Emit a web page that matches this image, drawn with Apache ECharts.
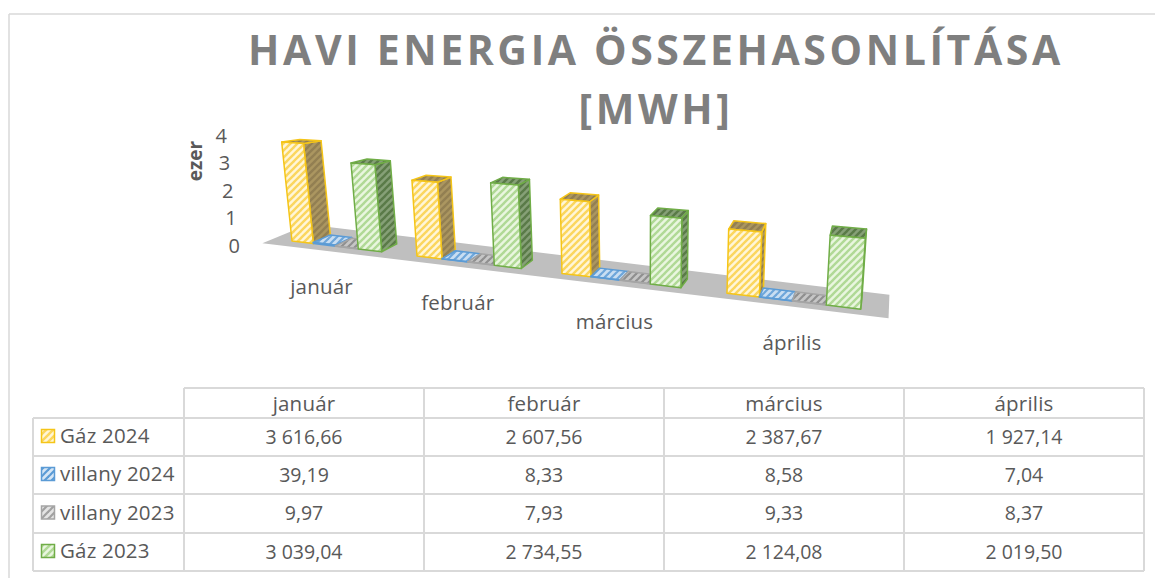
<!DOCTYPE html>
<html><head><meta charset="utf-8">
<style>
html,body{margin:0;padding:0;background:#fff}
#c{width:1155px;height:578px}
#c text[style*="41px"]{letter-spacing:3.6px}
#c text[style*="20.5px"]{letter-spacing:.2px}
</style>
<script src="https://cdn.jsdelivr.net/npm/echarts@6/dist/echarts.min.js"></script>
</head><body><div id="c"></div>
<script>
const titleText = 'HAVI ENERGIA ÖSSZEHASONLÍTÁSA\n[MWH]';
const axisName = 'ezer';
const categories = ['január','február','március','április'];
const tickLabels = ['0','1','2','3','4'];
const gaz2024 = [3616.66,2607.56,2387.67,1927.14];
const villany2024 = [39.19,8.33,8.58,7.04];
const villany2023 = [9.97,7.93,9.33,8.37];
const gaz2023 = [3039.04,2734.55,2124.08,2019.50];

const FONT='"Open Sans"', TXT='#595959', LINE='#d9d9d9', SIZE='19.5px ', WORD='20.5px ';
function tile(bg,fg,lw){
  const n=7,cv=document.createElement('canvas');cv.width=n;cv.height=n;
  const x=cv.getContext('2d');x.fillStyle=bg;x.fillRect(0,0,n,n);
  x.strokeStyle=fg;x.lineWidth=lw;
  for(let k=-n;k<=2*n;k+=n){x.beginPath();x.moveTo(k-1,n+1);x.lineTo(k+n+1,-1);x.stroke();}
  return {image:cv,repeat:'repeat',imageWidth:n,imageHeight:n};
}
const defs=[
 {name:'Gáz 2024',values:gaz2024,a:0,color:'#f5c518',front:tile('#fff6d8','#fbd65e',2.4),side:tile('#ab9660','#927f52',2.4),top:tile('#ab9660','#927f52',2.4)},
 {name:'villany 2024',values:villany2024,a:.183,color:'#5b9bd5',front:tile('#d6e6f5','#5b9bd5',2.2),side:tile('#7fa6cc','#5b84ad',2),top:tile('#c9def2','#6ea6da',2.2)},
 {name:'villany 2023',values:villany2023,a:.366,color:'#a5a5a5',front:tile('#e4e4e4','#a0a0a0',2.2),side:tile('#9a9a9a','#808080',2),top:tile('#c6c6c6','#8f8f8f',2.2)},
 {name:'Gáz 2023',values:gaz2023,a:.55,color:'#70ad47',front:tile('#e9f6df','#b0d996',2.4),side:tile('#86a077','#5a7a48',2.4),top:tile('#86a077','#5a7a48',2.4)}
];
const W=.183;
function P(api,u,d,v){
  const o=api.coord([0,0]),step=api.coord([1,0])[0]-o[0];
  const X0=o[0]+u*step+10*u*u;
  const Y0=o[1]-4+.12*(X0-o[0]);
  const dx=17-(X0-315)*.029, dy=-7.5-.003*(X0-273);
  const nominal=o[1]-api.coord([0,v])[1];
  const h=nominal*(1+(X0-300)*.000494)*(1-d*.05*(1-(X0-300)/540));
  const lean=.0003*(X0-640);
  return [X0+d*dx+lean*h, Y0+d*dy-h];
}
function barItem(def){
  return function(params,api){
    const i=api.value(0),v=api.value(1),u0=i+def.a,u1=u0+W;
    const poly=(pts,fill)=>({type:'polygon',shape:{points:pts},style:{fill:fill,stroke:def.color,lineWidth:1.5,lineJoin:'round'}});
    return {type:'group',children:[
      poly([P(api,u1,0,0),P(api,u1,1,0),P(api,u1,1,v),P(api,u1,0,v)],def.side),
      poly([P(api,u0,0,v),P(api,u1,0,v),P(api,u1,1,v),P(api,u0,1,v)],def.top),
      poly([P(api,u0,0,0),P(api,u1,0,0),P(api,u1,0,v),P(api,u0,0,v)],def.front)
    ]};
  };
}
function floorItem(params,api){
  const a=-.165,b=3.88;
  return {type:'polygon',shape:{points:[P(api,a,-.6,0),P(api,b,-.6,0),P(api,b,1.9,0),P(api,a,1.9,0)]},style:{fill:'#bfbfbf'}};
}
function labelItem(params,api){
  const i=api.value(0),p=P(api,i+.37,-1,0);
  return {type:'text',x:p[0]+2,y:p[1]+32,style:{text:categories[i],fill:TXT,font:WORD+FONT,align:'center',verticalAlign:'middle'}};
}
// table
const colX=[184,424,664,904,1144], rowY=[388,418,456,494,533,571], tableLeft=33;
const fmt=v=>{const s=v.toFixed(2).split('.');return s[0].replace(/\B(?=(\d{3})+$)/g,' ')+','+s[1];};
const g=[];
const line=(x1,y1,x2,y2)=>g.push({type:'line',silent:true,shape:{x1,y1,x2,y2},style:{stroke:LINE,lineWidth:2}});
const text=(t,x,y,align,size)=>g.push({type:'text',silent:true,x,y,style:{text:t,fill:TXT,font:size+FONT,align:align,verticalAlign:'middle'}});
// outer frame
g.push({type:'line',silent:true,shape:{x1:9,y1:14,x2:1155,y2:14},style:{stroke:LINE,lineWidth:1.5}});
g.push({type:'line',silent:true,shape:{x1:9,y1:14,x2:9,y2:578},style:{stroke:LINE,lineWidth:1.5}});
rowY.forEach((y,r)=>line(r===0?colX[0]:tableLeft,y,colX[4],y));
colX.forEach(x=>line(x,rowY[0],x,rowY[5]));
line(tableLeft,rowY[1],tableLeft,rowY[5]);
categories.forEach((c,i)=>text(c,(colX[i]+colX[i+1])/2,(rowY[0]+rowY[1])/2,'center',WORD));
defs.forEach((d,r)=>{
  const cy=(rowY[r+1]+rowY[r+2])/2-1;
  g.push({type:'rect',silent:true,shape:{x:41.5,y:cy-6.5,width:13,height:13},style:{fill:d.front,stroke:d.color,lineWidth:1.5}});
  text(d.name,60,cy-1,'left',WORD);
  d.values.forEach((v,i)=>text(fmt(v),(colX[i]+colX[i+1])/2,cy,'center',SIZE));
});
g.push({type:'text',silent:true,x:195,y:161,rotation:Math.PI/2,style:{text:axisName,fill:TXT,font:'bold 19px '+FONT,align:'center',verticalAlign:'middle'}});

const rich={};tickLabels.forEach((t,i)=>{rich['t'+i]={fontFamily:'Open Sans',fontSize:20,color:TXT,padding:[0,i*3.25,0,0]};});
const chart=echarts.init(document.getElementById('c'),null,{renderer:'svg'});
chart.setOption({
  animation:false,
  title:{text:titleText,left:651,top:14,textAlign:'center',textStyle:{fontFamily:'Open Sans',fontWeight:'bold',fontSize:41,lineHeight:59,color:'#7f7f7f'}},
  grid:{left:292,width:345,top:135,height:110},
  xAxis:{type:'category',data:categories,boundaryGap:false,show:false},
  yAxis:{type:'value',min:0,max:4000,interval:1000,splitLine:{show:false},axisLine:{show:false},axisTick:{show:false},
    axisLabel:{margin:52,formatter:v=>{const i=v/1000;return '{t'+i+'|'+tickLabels[i]+'}';},rich:rich}},
  graphic:g,
  series:[
    {type:'custom',name:'padló',renderItem:floorItem,data:[[0,0]],encode:{x:0,y:1},silent:true,z:1,clip:false},
    ...defs.map((d,k)=>({type:'custom',name:d.name,renderItem:barItem(d),data:categories.map((c,i)=>[i,d.values[i]]),encode:{x:0,y:1},silent:true,z:2,clip:false})),
    {type:'custom',name:'hónapok',renderItem:labelItem,data:categories.map((c,i)=>[i,0]),encode:{x:0,y:1},silent:true,z:3,clip:false}
  ]
});
</script></body></html>
